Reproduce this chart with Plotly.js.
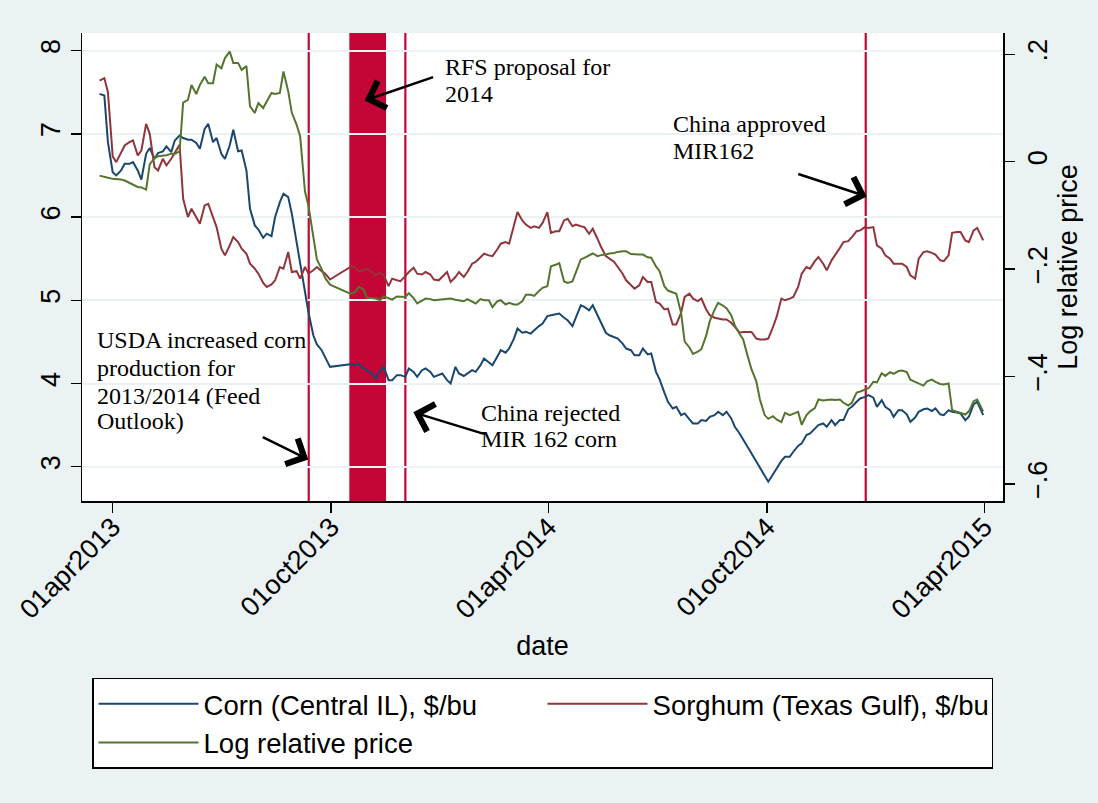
<!DOCTYPE html>
<html><head><meta charset="utf-8">
<script src="https://cdn.plot.ly/plotly-3.0.1.min.js"></script>
<style>html,body{margin:0;padding:0;background:#eaf2f3;}#chart{width:1098px;height:803px;}</style>
</head><body><div id="chart"></div>
<script>
const dates = ['2013-03-21','2013-03-25','2013-03-28','2013-04-01','2013-04-04','2013-04-08','2013-04-11','2013-04-15','2013-04-18','2013-04-22','2013-04-25','2013-04-29','2013-05-02','2013-05-06','2013-05-09','2013-05-13','2013-05-16','2013-05-20','2013-05-23','2013-05-27','2013-05-30','2013-06-03','2013-06-06','2013-06-10','2013-06-13','2013-06-17','2013-06-20','2013-06-24','2013-06-27','2013-07-01','2013-07-04','2013-07-08','2013-07-11','2013-07-15','2013-07-18','2013-07-22','2013-07-25','2013-07-29','2013-08-01','2013-08-05','2013-08-08','2013-08-12','2013-08-15','2013-08-19','2013-08-22','2013-08-26','2013-08-29','2013-09-02','2013-09-05','2013-09-09','2013-09-12','2013-09-16','2013-09-19','2013-09-23','2013-09-26','2013-09-30','2013-10-17','2013-10-21','2013-10-24','2013-10-28','2013-10-31','2013-11-04','2013-11-07','2013-11-11','2013-11-14','2013-11-18','2013-11-21','2013-11-25','2013-11-28','2013-12-02','2013-12-05','2013-12-09','2013-12-12','2013-12-16','2013-12-19','2013-12-23','2013-12-26','2013-12-30','2014-01-02','2014-01-06','2014-01-09','2014-01-13','2014-01-16','2014-01-20','2014-01-23','2014-01-27','2014-01-30','2014-02-03','2014-02-06','2014-02-10','2014-02-13','2014-02-17','2014-02-20','2014-02-24','2014-02-27','2014-03-03','2014-03-06','2014-03-10','2014-03-13','2014-03-17','2014-03-20','2014-03-24','2014-03-27','2014-03-31','2014-04-03','2014-04-07','2014-04-10','2014-04-14','2014-04-17','2014-04-21','2014-04-24','2014-04-28','2014-05-01','2014-05-05','2014-05-08','2014-05-12','2014-05-15','2014-05-19','2014-05-22','2014-05-26','2014-05-29','2014-06-02','2014-06-05','2014-06-09','2014-06-12','2014-06-16','2014-06-19','2014-06-23','2014-06-26','2014-06-30','2014-07-03','2014-07-07','2014-07-10','2014-07-14','2014-07-17','2014-07-21','2014-07-24','2014-07-28','2014-07-31','2014-08-04','2014-08-07','2014-08-11','2014-08-14','2014-08-18','2014-08-21','2014-08-25','2014-08-28','2014-09-01','2014-09-04','2014-09-08','2014-09-11','2014-09-15','2014-09-18','2014-09-22','2014-09-25','2014-09-29','2014-10-02','2014-10-06','2014-10-09','2014-10-13','2014-10-16','2014-10-20','2014-10-23','2014-10-27','2014-10-30','2014-11-03','2014-11-06','2014-11-10','2014-11-13','2014-11-17','2014-11-20','2014-11-24','2014-11-27','2014-12-01','2014-12-04','2014-12-08','2014-12-11','2014-12-15','2014-12-18','2014-12-22','2014-12-25','2014-12-29','2015-01-01','2015-01-05','2015-01-08','2015-01-12','2015-01-15','2015-01-19','2015-01-22','2015-01-26','2015-01-29','2015-02-02','2015-02-05','2015-02-09','2015-02-12','2015-02-16','2015-02-19','2015-02-23','2015-02-26','2015-03-02','2015-03-05','2015-03-09','2015-03-12','2015-03-16','2015-03-19','2015-03-23','2015-03-26','2015-03-31'];

const corn = [7.48,7.46,6.9,6.54,6.5,6.56,6.64,6.64,6.66,6.56,6.45,6.76,6.83,6.7,6.77,6.79,6.85,6.78,6.92,6.98,6.95,6.93,6.93,6.89,6.82,7.06,7.12,6.9,6.95,6.76,6.7,6.86,7.05,6.79,6.8,6.56,6.1,5.9,5.85,5.75,5.8,5.77,6.0,6.18,6.28,6.24,6.04,5.7,5.48,5.09,4.85,4.58,4.47,4.4,4.32,4.2,4.23,4.22,4.24,4.18,4.16,4.12,4.06,4.16,4.2,4.04,4.04,4.1,4.1,4.08,4.18,4.14,4.08,4.16,4.18,4.14,4.08,4.1,4.12,4.04,4.0,4.2,4.12,4.09,4.12,4.16,4.14,4.22,4.3,4.26,4.22,4.32,4.4,4.37,4.42,4.54,4.66,4.61,4.62,4.6,4.64,4.69,4.72,4.81,4.82,4.83,4.84,4.79,4.76,4.69,4.8,4.94,4.92,4.88,4.94,4.82,4.72,4.61,4.58,4.56,4.54,4.48,4.42,4.4,4.34,4.34,4.42,4.35,4.36,4.14,4.05,3.89,3.78,3.7,3.72,3.62,3.64,3.57,3.52,3.52,3.56,3.55,3.6,3.62,3.66,3.62,3.66,3.58,3.48,3.4,3.32,3.23,3.16,3.06,3.0,2.9,2.82,2.91,2.98,3.07,3.12,3.12,3.18,3.25,3.28,3.38,3.4,3.46,3.5,3.52,3.48,3.56,3.5,3.56,3.56,3.69,3.72,3.78,3.82,3.84,3.86,3.83,3.72,3.8,3.72,3.68,3.6,3.68,3.68,3.63,3.54,3.59,3.66,3.69,3.7,3.67,3.7,3.63,3.62,3.68,3.66,3.65,3.64,3.56,3.6,3.75,3.78,3.62];

const sorghum = [7.64,7.67,7.5,6.73,6.66,6.78,6.86,6.9,6.92,6.74,6.8,7.12,7.0,6.6,6.56,6.7,6.62,6.7,6.78,6.87,6.22,6.0,6.1,6.0,5.92,6.14,6.16,6.0,5.88,5.62,5.54,5.66,5.76,5.7,5.62,5.56,5.44,5.38,5.32,5.21,5.16,5.19,5.24,5.4,5.38,5.58,5.34,5.35,5.26,5.4,5.32,5.36,5.4,5.35,5.32,5.25,5.4,5.4,5.35,5.36,5.38,5.34,5.3,5.33,5.3,5.17,5.26,5.24,5.23,5.29,5.34,5.39,5.32,5.31,5.34,5.31,5.25,5.24,5.28,5.34,5.22,5.28,5.34,5.28,5.34,5.44,5.46,5.52,5.56,5.54,5.53,5.61,5.68,5.7,5.68,5.9,6.06,5.96,5.91,5.87,5.89,5.87,5.93,6.06,5.81,5.83,5.83,5.96,5.98,5.89,5.91,5.89,5.88,5.8,5.86,5.74,5.64,5.53,5.5,5.46,5.4,5.32,5.24,5.18,5.14,5.18,5.28,5.22,5.22,4.98,4.96,4.89,4.9,4.71,4.71,4.85,5.04,5.08,5.02,4.99,5.02,4.89,4.82,4.79,4.78,4.77,4.77,4.73,4.68,4.61,4.62,4.62,4.62,4.54,4.53,4.53,4.54,4.68,4.8,5.02,5.0,5.02,5.04,5.16,5.32,5.4,5.38,5.47,5.52,5.44,5.36,5.48,5.54,5.63,5.7,5.71,5.76,5.83,5.84,5.88,5.87,5.88,5.66,5.62,5.54,5.5,5.44,5.44,5.44,5.4,5.3,5.26,5.5,5.58,5.59,5.57,5.55,5.48,5.47,5.54,5.81,5.82,5.82,5.72,5.7,5.84,5.87,5.72];

const logRelative = [-0.026,-0.029,-0.030,-0.032,-0.032,-0.033,-0.035,-0.039,-0.043,-0.047,-0.048,-0.052,-0.005,0.007,0.010,0.011,0.012,0.015,0.015,0.019,0.110,0.115,0.143,0.126,0.143,0.158,0.146,0.146,0.181,0.174,0.193,0.205,0.184,0.184,0.171,0.178,0.103,0.091,0.109,0.100,0.112,0.128,0.126,0.128,0.168,0.131,0.091,0.069,0.047,-0.055,-0.083,-0.139,-0.182,-0.200,-0.217,-0.229,-0.246,-0.243,-0.233,-0.238,-0.254,-0.254,-0.255,-0.258,-0.251,-0.254,-0.257,-0.251,-0.251,-0.252,-0.245,-0.254,-0.264,-0.258,-0.255,-0.256,-0.258,-0.257,-0.256,-0.255,-0.255,-0.257,-0.258,-0.260,-0.256,-0.261,-0.264,-0.256,-0.258,-0.258,-0.271,-0.260,-0.258,-0.266,-0.263,-0.266,-0.266,-0.260,-0.248,-0.248,-0.250,-0.241,-0.235,-0.232,-0.195,-0.192,-0.189,-0.223,-0.226,-0.223,-0.204,-0.182,-0.179,-0.175,-0.171,-0.176,-0.174,-0.173,-0.171,-0.170,-0.168,-0.167,-0.167,-0.172,-0.173,-0.173,-0.173,-0.178,-0.179,-0.195,-0.204,-0.232,-0.240,-0.243,-0.246,-0.282,-0.335,-0.346,-0.358,-0.354,-0.349,-0.324,-0.297,-0.276,-0.263,-0.268,-0.273,-0.286,-0.305,-0.321,-0.331,-0.364,-0.387,-0.409,-0.443,-0.472,-0.479,-0.474,-0.480,-0.485,-0.468,-0.472,-0.469,-0.466,-0.490,-0.472,-0.465,-0.459,-0.443,-0.445,-0.444,-0.443,-0.444,-0.443,-0.449,-0.454,-0.449,-0.430,-0.428,-0.425,-0.422,-0.410,-0.411,-0.394,-0.399,-0.392,-0.395,-0.390,-0.389,-0.392,-0.406,-0.410,-0.413,-0.417,-0.409,-0.406,-0.410,-0.414,-0.415,-0.413,-0.463,-0.466,-0.468,-0.471,-0.465,-0.446,-0.443,-0.465];

const seriesNames = ['Corn (Central IL), $/bu','Sorghum (Texas Gulf), $/bu','Log relative price'];
const seriesColors = ['#1a476f','#90353b','#55752f'];

const xTickVals = ['2013-04-01','2013-10-01','2014-04-01','2014-10-01','2015-04-01'];
const xTickText = ['01apr2013','01oct2013','01apr2014','01oct2014','01apr2015'];
const yTickVals = [3,4,5,6,7,8];
const y2TickVals = [-0.6,-0.4,-0.2,0,0.2];
const y2TickText = ['\u2212.6','\u2212.4','\u2212.2','0','.2'];

const eventLineDates = ['2013-09-12 04:00','2013-12-02 02:00','2014-12-22 15:00'];
const eventBandDates = ['2013-10-16 04:00','2013-11-15 22:00'];

const CRIMSON = '#c30636';
const SERIF = 'Liberation Serif, Times New Roman, serif';
const SANS = 'Liberation Sans, Arial, Helvetica, sans-serif';

const yRefs = ['y','y','y2'];
const seriesValues = [corn, sorghum, logRelative];
const traces = seriesValues.map((vals, i) => ({
  x: dates, y: vals, name: seriesNames[i], type: 'scatter', mode: 'lines', connectgaps: true,
  line: {color: seriesColors[i], width: 2}, yaxis: yRefs[i]
}));

const shapes = [];
eventLineDates.forEach(d => shapes.push({type: 'line', xref: 'x', yref: 'paper', x0: d, x1: d, y0: 0, y1: 1,
  line: {color: CRIMSON, width: 2.2}, layer: 'between'}));
shapes.push({type: 'rect', xref: 'x', yref: 'paper', x0: eventBandDates[0], x1: eventBandDates[1], y0: 0, y1: 1,
  fillcolor: CRIMSON, line: {width: 0}, layer: 'between'});

function txt(text, x, y) {
  return {text: text, xref: 'paper', yref: 'paper', x: x, y: y, xanchor: 'left', yanchor: 'middle',
    showarrow: false, font: {family: SERIF, size: 24, color: '#000'}};
}
function arrow(x, y, ax, ay) {
  return {text: '', xref: 'x', yref: 'y', x: x, y: y, ax: ax, ay: ay, showarrow: true,
    arrowhead: 4, arrowsize: 2.2, arrowwidth: 2.5, arrowcolor: '#000', standoff: 0};
}
const annotations = [
  txt('RFS proposal for', 0.392, 0.927), txt('2014', 0.392, 0.870),
  txt('China approved', 0.640, 0.805), txt('MIR162', 0.640, 0.747),
  txt('USDA increased corn', 0.0141, 0.343), txt('production for', 0.0141, 0.284),
  txt('2013/2014 (Feed', 0.0141, 0.225), txt('Outlook)', 0.0141, 0.170),
  txt('China rejected', 0.431, 0.187), txt('MIR 162 corn', 0.431, 0.132),
  arrow('2013-10-29', 7.4, 70, -24),
  arrow('2014-12-23 12:00', 6.247, -70, -23),
  arrow('2013-09-11 19:00', 3.087, -47, -23),
  arrow('2013-12-08 19:00', 3.654, 72, 22)
];

const layout = {
  width: 1098, height: 803,
  paper_bgcolor: '#eaf2f3', plot_bgcolor: '#ffffff',
  margin: {l: 82, r: 95, t: 33, b: 302, autoexpand: false},
  font: {family: SANS, size: 27, color: '#000'},
  showlegend: true,
  legend: {orientation: 'h', x: 0.0109, xanchor: 'left', y: -0.378, yanchor: 'top',
    bgcolor: '#ffffff', bordercolor: '#000', borderwidth: 1.5,
    font: {family: SANS, size: 27.5, color: '#000'}, itemwidth: 100, entrywidth: 334, traceorder: 'normal'},
  xaxis: {type: 'date', range: ['2013-03-06 07:00', '2015-04-16 14:00'],
    tickmode: 'array', tickvals: xTickVals, ticktext: xTickText, tickangle: -45,
    ticks: 'outside', ticklen: 10, tickwidth: 1.5, tickcolor: '#000', ticklabelstandoff: -12,
    showline: true, linecolor: '#000', linewidth: 1.5, showgrid: false, zeroline: false,
    tickfont: {family: SANS, size: 27}, automargin: false,
    title: {text: 'date', font: {family: SANS, size: 27}, standoff: 12}},
  yaxis: {range: [2.588, 8.212], tickmode: 'array', tickvals: yTickVals, tickangle: -90,
    ticks: 'outside', ticklen: 10, tickwidth: 1.5, tickcolor: '#000',
    showline: true, linecolor: '#000', linewidth: 1.5,
    showgrid: true, gridcolor: '#eaf2f3', gridwidth: 2, zeroline: false,
    tickfont: {family: SANS, size: 27}, automargin: false},
  yaxis2: {overlaying: 'y', side: 'right', range: [-0.632, 0.2397],
    tickmode: 'array', tickvals: y2TickVals, ticktext: y2TickText, tickangle: -90,
    ticks: 'outside', ticklen: 10, tickwidth: 1.5, tickcolor: '#000',
    showline: true, linecolor: '#000', linewidth: 1.5, showgrid: false, zeroline: false,
    tickfont: {family: SANS, size: 27}, automargin: false,
    title: {text: 'Log relative price', font: {family: SANS, size: 27}, standoff: 0}},
  shapes: shapes,
  annotations: annotations
};

Plotly.newPlot('chart', traces, layout, {displayModeBar: false, staticPlot: true});
</script>
</body></html>
